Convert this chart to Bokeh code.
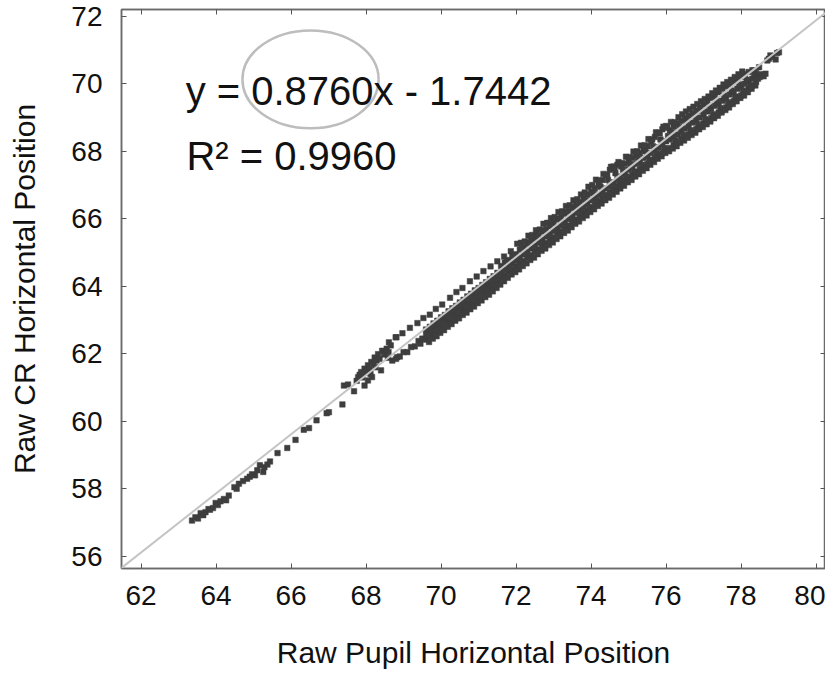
from bokeh.plotting import figure
from bokeh.models import Range1d, LinearAxis, FixedTicker, Slope, Label
from bokeh.embed import file_html
from bokeh.resources import INLINE

# ---------------- data ----------------
x_ticks = [62, 64, 66, 68, 70, 72, 74, 76, 78, 80]
y_ticks = [56, 58, 60, 62, 64, 66, 68, 70, 72]
x_lim = [61.48, 80.25]
y_lim = [55.64, 72.20]

x_title = "Raw Pupil Horizontal Position"
y_title = "Raw CR Horizontal Position"
eq_text = "y = 0.8760x - 1.7442"
r2_text = "R\u00b2 = 0.9960"

# trend line as drawn in the picture
fit_slope = 0.8760
fit_intercept_drawn = 1.80

# sparse lower tail
tail_x = [63.36, 63.45, 63.52, 63.59, 63.66, 63.72, 63.80, 63.84, 63.92, 63.99,
          64.05, 64.12, 64.21, 64.27, 64.34, 64.49, 64.55, 64.61, 64.72, 64.83,
          64.90, 64.96, 65.04, 65.10, 65.17, 65.26, 65.29, 65.37, 65.44, 65.64,
          65.90, 66.12, 66.34, 66.48, 66.68, 66.95, 67.01, 67.37]
tail_y = [57.06, 57.16, 57.12, 57.28, 57.22, 57.31, 57.40, 57.38, 57.43, 57.58,
          57.52, 57.63, 57.70, 57.66, 57.80, 58.05, 58.00, 58.15, 58.23, 58.30,
          58.36, 58.43, 58.40, 58.55, 58.70, 58.50, 58.64, 58.72, 58.81, 59.06,
          59.21, 59.45, 59.75, 59.80, 60.03, 60.24, 60.27, 60.50]

# cluster near x = 68
cluster_x = [67.41, 67.52, 67.68, 67.75, 67.79, 67.83, 67.87, 67.90, 67.96, 67.96,
             68.00, 68.05, 68.05, 68.10, 68.12, 68.14, 68.16, 68.20, 68.23, 68.25,
             68.28, 68.32, 68.36, 68.40, 68.43, 68.48, 68.55, 68.58, 68.60, 68.66,
             68.81, 68.83]
cluster_y = [61.06, 61.09, 60.89, 61.20, 61.31, 61.38, 61.46, 61.30, 61.56, 61.06,
             61.45, 61.66, 61.21, 61.55, 61.40, 61.76, 61.31, 61.70, 61.89, 61.60,
             61.80, 61.99, 61.85, 61.51, 62.09, 61.98, 62.15, 61.88, 62.05, 62.25,
             62.49, 61.90]

# upper dotted row
upper_x = [68.61, 68.79, 68.97, 69.17, 69.37, 69.53, 69.70, 69.86, 70.03, 70.24,
           70.41, 70.57, 70.77, 70.95, 71.13, 71.32, 71.50, 71.68, 71.86, 72.03]
upper_y = [62.34, 62.49, 62.61, 62.77, 62.91, 63.06, 63.16, 63.33, 63.46, 63.66,
           63.83, 63.95, 64.15, 64.29, 64.45, 64.59, 64.74, 64.88, 65.04, 65.26]

# thin part of the band
thin_x = [68.70, 68.80, 68.90, 69.00, 69.10, 69.20, 69.30, 69.40, 69.45, 69.50]
thin_y = [61.80, 61.85, 61.92, 62.05, 62.05, 62.20, 62.22, 62.38, 62.30, 62.45]

# dense band: x and three readings (lower / middle / upper)
band_x = [69.6, 69.7, 69.8, 69.9, 70.0, 70.1, 70.2, 70.3, 70.4, 70.5,
          70.6, 70.7, 70.8, 70.9, 71.0, 71.1, 71.2, 71.3, 71.4, 71.5,
          71.6, 71.7, 71.8, 71.9, 72.0, 72.1, 72.2, 72.3, 72.4, 72.5,
          72.6, 72.7, 72.8, 72.9, 73.0, 73.1, 73.2, 73.3, 73.4, 73.5,
          73.6, 73.7, 73.8, 73.9, 74.0, 74.1, 74.2, 74.3, 74.4, 74.5,
          74.6, 74.7, 74.8, 74.9, 75.0, 75.1, 75.2, 75.3, 75.4, 75.5,
          75.6, 75.7, 75.8, 75.9, 76.0, 76.1, 76.2, 76.3, 76.4, 76.5,
          76.6, 76.7, 76.8, 76.9, 77.0, 77.1, 77.2, 77.3, 77.4, 77.5,
          77.6, 77.7, 77.8, 77.9, 78.0, 78.1, 78.2, 78.3, 78.4]
band_lo = [62.42, 62.50, 62.60, 62.65, 62.78, 62.84, 62.95, 63.00, 63.12, 63.18,
           63.28, 63.36, 63.45, 63.55, 63.62, 63.72, 63.80, 63.90, 63.98, 64.08,
           64.22, 64.30, 64.42, 64.48, 64.58, 64.66, 64.75, 64.85, 64.92, 65.02,
           65.10, 65.20, 65.28, 65.38, 65.45, 65.55, 65.62, 65.72, 65.80, 65.90,
           65.98, 66.05, 66.15, 66.22, 66.32, 66.40, 66.50, 66.60, 66.70, 66.78,
           66.88, 66.95, 67.05, 67.12, 67.20, 67.30, 67.38, 67.45, 67.55, 67.62,
           67.72, 67.80, 67.88, 67.95, 68.05, 68.10, 68.18, 68.25, 68.35, 68.42,
           68.50, 68.58, 68.65, 68.72, 68.82, 68.90, 68.98, 69.05, 69.15, 69.22,
           69.30, 69.40, 69.48, 69.58, 69.65, 69.75, 69.85, 69.95, 70.05]
band_mid = [62.57, 62.66, 62.73, 62.82, 62.92, 63.02, 63.08, 63.18, 63.26, 63.35,
            63.44, 63.52, 63.62, 63.70, 63.78, 63.86, 63.98, 64.05, 64.15, 64.22,
            64.40, 64.50, 64.58, 64.68, 64.75, 64.85, 64.95, 65.02, 65.12, 65.20,
            65.30, 65.38, 65.48, 65.55, 65.65, 65.72, 65.82, 65.90, 66.00, 66.08,
            66.18, 66.28, 66.35, 66.45, 66.55, 66.62, 66.72, 66.80, 66.90, 67.00,
            67.08, 67.18, 67.25, 67.35, 67.45, 67.52, 67.62, 67.70, 67.80, 67.88,
            67.95, 68.05, 68.12, 68.22, 68.30, 68.35, 68.42, 68.50, 68.60, 68.68,
            68.75, 68.85, 68.92, 69.00, 69.10, 69.18, 69.25, 69.35, 69.42, 69.50,
            69.58, 69.68, 69.75, 69.85, 69.92, 70.00, 70.08, 70.15, 70.22]
band_hi = [62.72, 62.80, 62.90, 62.98, 63.08, 63.15, 63.26, 63.35, 63.42, 63.52,
           63.60, 63.70, 63.78, 63.88, 63.95, 64.04, 64.12, 64.22, 64.30, 64.40,
           64.60, 64.70, 64.78, 64.88, 64.95, 65.08, 65.15, 65.25, 65.35, 65.42,
           65.50, 65.62, 65.70, 65.78, 65.88, 65.98, 66.05, 66.15, 66.22, 66.32,
           66.40, 66.50, 66.60, 66.72, 66.80, 66.90, 67.00, 67.15, 67.30, 67.45,
           67.55, 67.60, 67.55, 67.62, 67.70, 67.80, 67.88, 67.95, 68.05, 68.15,
           68.28, 68.42, 68.55, 68.65, 68.75, 68.62, 68.72, 68.82, 68.90, 68.98,
           69.05, 69.12, 69.20, 69.30, 69.38, 69.48, 69.58, 69.65, 69.75, 69.85,
           69.92, 69.98, 70.05, 70.12, 70.20, 70.28, 70.35, 70.40, 70.32]

# in-between points of the dense band
half_x = [69.65, 69.75, 69.85, 69.95, 70.05, 70.15, 70.25, 70.35, 70.45, 70.55,
          70.65, 70.75, 70.85, 70.95, 71.05, 71.15, 71.25, 71.35, 71.45, 71.55,
          71.65, 71.75, 71.85, 71.95, 72.05, 72.15, 72.25, 72.35, 72.45, 72.55,
          72.65, 72.75, 72.85, 72.95, 73.05, 73.15, 73.25, 73.35, 73.45, 73.55,
          73.65, 73.75, 73.85, 73.95, 74.05, 74.15, 74.25, 74.35, 74.45, 74.55,
          74.65, 74.75, 74.85, 74.95, 75.05, 75.15, 75.25, 75.35, 75.45, 75.55,
          75.65, 75.75, 75.85, 75.95, 76.05, 76.15, 76.25, 76.35, 76.45, 76.55,
          76.65, 76.75, 76.85, 76.95, 77.05, 77.15, 77.25, 77.35, 77.45, 77.55,
          77.65, 77.75, 77.85, 77.95, 78.05, 78.15, 78.25, 78.35, 78.45]
half_y = [62.55, 62.75, 62.70, 62.95, 62.88, 63.12, 63.05, 63.30, 63.22, 63.45,
          63.40, 63.62, 63.55, 63.80, 63.72, 63.98, 63.90, 64.16, 64.05, 64.35,
          64.45, 64.72, 64.55, 64.92, 64.80, 65.12, 64.95, 65.30, 65.15, 65.50,
          65.30, 65.65, 65.48, 65.85, 65.65, 66.00, 65.80, 66.20, 66.00, 66.35,
          66.35, 66.20, 66.55, 66.35, 66.75, 66.55, 66.95, 66.70, 67.15, 66.95,
          67.35, 67.10, 67.45, 67.25, 67.62, 67.40, 67.80, 67.60, 68.00, 67.75,
          68.15, 67.95, 68.35, 68.10, 68.45, 68.55, 68.32, 68.72, 68.50, 68.90,
          68.62, 69.05, 68.80, 69.20, 68.95, 69.35, 69.10, 69.50, 69.28, 69.65,
          69.45, 69.80, 69.62, 69.98, 69.80, 70.12, 69.95, 70.30, 70.15]

# upper edge of the dense band
top_edge_x = [72.13, 72.23, 72.33, 72.43, 72.53, 72.63, 72.73, 72.83, 72.93, 73.03,
              73.13, 73.23, 73.33, 73.43, 73.53, 73.63, 73.73, 73.83, 73.93, 74.03,
              74.13, 74.23, 74.33, 74.43, 74.53, 74.63, 74.73, 74.83, 74.93, 75.03,
              75.13, 75.23, 75.33, 75.43, 75.53, 75.63, 75.73, 75.83, 75.93, 76.03,
              76.13, 76.23, 76.33, 76.43, 76.53, 76.63, 76.73, 76.83, 76.93, 77.03,
              77.13, 77.23, 77.33, 77.43, 77.53, 77.63, 77.73, 77.83, 77.93, 78.03]
top_edge_y = [65.29, 65.33, 65.50, 65.52, 65.66, 65.68, 65.85, 65.88, 66.02, 66.05,
              66.20, 66.22, 66.38, 66.40, 66.55, 66.58, 66.72, 66.78, 66.95, 67.00,
              67.16, 67.13, 67.33, 67.30, 67.54, 67.50, 67.68, 67.65, 67.84, 67.83,
              67.99, 68.00, 68.17, 68.18, 68.36, 68.35, 68.56, 68.53, 68.73, 68.70,
              68.87, 68.86, 69.01, 69.10, 69.18, 69.25, 69.32, 69.40, 69.48, 69.55,
              69.62, 69.72, 69.80, 69.88, 69.98, 70.05, 70.12, 70.20, 70.28, 70.36]

# lower edge of the dense band
low_edge_x = [69.68, 69.78, 69.88, 69.98, 70.08, 70.18, 70.28, 70.38, 70.48, 70.58,
              70.68, 70.78, 70.88, 70.98, 71.08, 71.18, 71.28, 71.38, 71.48, 71.58,
              71.68, 71.78, 71.88, 71.98, 72.08, 72.18, 72.28, 72.38, 72.48, 72.58,
              72.68, 72.78, 72.88, 72.98, 73.08, 73.18, 73.28, 73.38, 73.48, 73.58,
              73.68, 73.78, 73.88, 73.98, 74.08, 74.18, 74.28, 74.38, 74.48, 74.58,
              74.68, 74.78, 74.88, 74.98, 75.08, 75.18, 75.28, 75.38, 75.48, 75.58,
              75.68, 75.78, 75.88, 75.98, 76.08, 76.18, 76.28, 76.38, 76.48, 76.58,
              76.68, 76.78, 76.88, 76.98, 77.08, 77.18, 77.28, 77.38, 77.48, 77.58,
              77.68, 77.78, 77.88, 77.98, 78.08, 78.18, 78.28, 78.38]
low_edge_y = [62.35, 62.45, 62.52, 62.62, 62.70, 62.80, 62.88, 62.98, 63.05, 63.15,
              63.22, 63.32, 63.40, 63.50, 63.58, 63.68, 63.75, 63.85, 63.95, 64.05,
              64.15, 64.25, 64.35, 64.42, 64.50, 64.60, 64.68, 64.78, 64.85, 64.95,
              65.05, 65.12, 65.22, 65.30, 65.40, 65.48, 65.58, 65.65, 65.75, 65.85,
              65.92, 66.02, 66.10, 66.20, 66.28, 66.38, 66.45, 66.55, 66.62, 66.72,
              66.80, 66.90, 66.98, 67.08, 67.15, 67.25, 67.32, 67.42, 67.50, 67.60,
              67.68, 67.78, 67.85, 67.95, 68.00, 68.08, 68.15, 68.25, 68.32, 68.40,
              68.48, 68.55, 68.65, 68.72, 68.80, 68.88, 68.98, 69.05, 69.15, 69.22,
              69.30, 69.40, 69.48, 69.58, 69.65, 69.75, 69.85, 69.95]

# upper end of the cloud
end_x = [78.34, 78.48, 78.50, 78.55, 78.60, 78.65, 78.70, 78.74, 78.78, 78.83,
         78.92, 78.96, 79.01]
end_y = [70.39, 70.49, 70.20, 70.28, 70.22, 70.30, 70.69, 70.74, 70.84, 70.79,
         70.72, 70.91, 70.93]

# ---------------- figure ----------------
FONT = "Liberation Sans"
TXT = "#111111"
FRAME = "#6a6a6a"

p = figure(frame_width=704, frame_height=559,
           x_range=Range1d(*x_lim), y_range=Range1d(*y_lim),
           output_backend="svg", toolbar_location=None,
           min_border_left=121, min_border_right=0,
           min_border_top=9, min_border_bottom=106)
p.grid.visible = False
p.background_fill_color = "white"
p.border_fill_color = "white"
p.outline_line_color = FRAME
p.outline_line_width = 1.5


def style_axis(ax, ticks, show_labels=True):
    ax.ticker = FixedTicker(ticks=ticks)
    ax.minor_tick_line_color = None
    ax.major_tick_in = 5
    ax.major_tick_out = 0
    ax.major_tick_line_color = "#555555"
    ax.major_tick_line_width = 1
    ax.axis_line_color = FRAME
    ax.axis_line_width = 1.5
    ax.major_label_text_font = FONT
    if show_labels:
        ax.major_label_text_font_size = "28px"
        ax.major_label_text_color = TXT
    else:
        ax.major_label_text_font_size = "1px"
        ax.major_label_text_color = None
        ax.major_label_standoff = 0


style_axis(p.xaxis[0], x_ticks)
style_axis(p.yaxis[0], y_ticks)
p.xaxis[0].major_label_standoff = 17
p.yaxis[0].major_label_standoff = 19
p.xaxis[0].axis_label = x_title
p.yaxis[0].axis_label = y_title
for ax in (p.xaxis[0], p.yaxis[0]):
    ax.axis_label_text_font = FONT
    ax.axis_label_text_font_size = "30px"
    ax.axis_label_text_font_style = "normal"
    ax.axis_label_text_color = TXT
p.xaxis[0].axis_label_standoff = 28
p.yaxis[0].axis_label_standoff = 27

top_ax = LinearAxis()
style_axis(top_ax, x_ticks, show_labels=False)
right_ax = LinearAxis()
style_axis(right_ax, y_ticks, show_labels=False)
p.add_layout(top_ax, "above")
p.add_layout(right_ax, "right")

# scatter points
all_x = (tail_x + cluster_x + upper_x + thin_x + band_x + band_x + band_x
         + half_x + top_edge_x + low_edge_x + end_x)
all_y = (tail_y + cluster_y + upper_y + thin_y + band_lo + band_mid + band_hi
         + half_y + top_edge_y + low_edge_y + end_y)
p.scatter(all_x, all_y, marker="square", size=5.5,
          fill_color="#3e3e3e", line_color="#3e3e3e", line_width=0.5)

# trend line
p.add_layout(Slope(gradient=fit_slope, y_intercept=fit_intercept_drawn,
                   line_color="#c4c4c4", line_width=2))

# annotation text and highlight ellipse
p.add_layout(Label(x=63.19, y=69.80, text=eq_text, text_font=FONT,
                   text_font_size="40px", text_color=TXT,
                   text_baseline="alphabetic"))
p.add_layout(Label(x=63.21, y=67.87, text=r2_text, text_font=FONT,
                   text_font_size="40px", text_color=TXT,
                   text_baseline="alphabetic"))
p.ellipse(x=[66.52], y=[70.13], width=[3.63], height=[2.90],
          fill_color=None, line_color="#bdbdbd", line_width=2.5)

open("out.html", "w").write(file_html(p, INLINE))
